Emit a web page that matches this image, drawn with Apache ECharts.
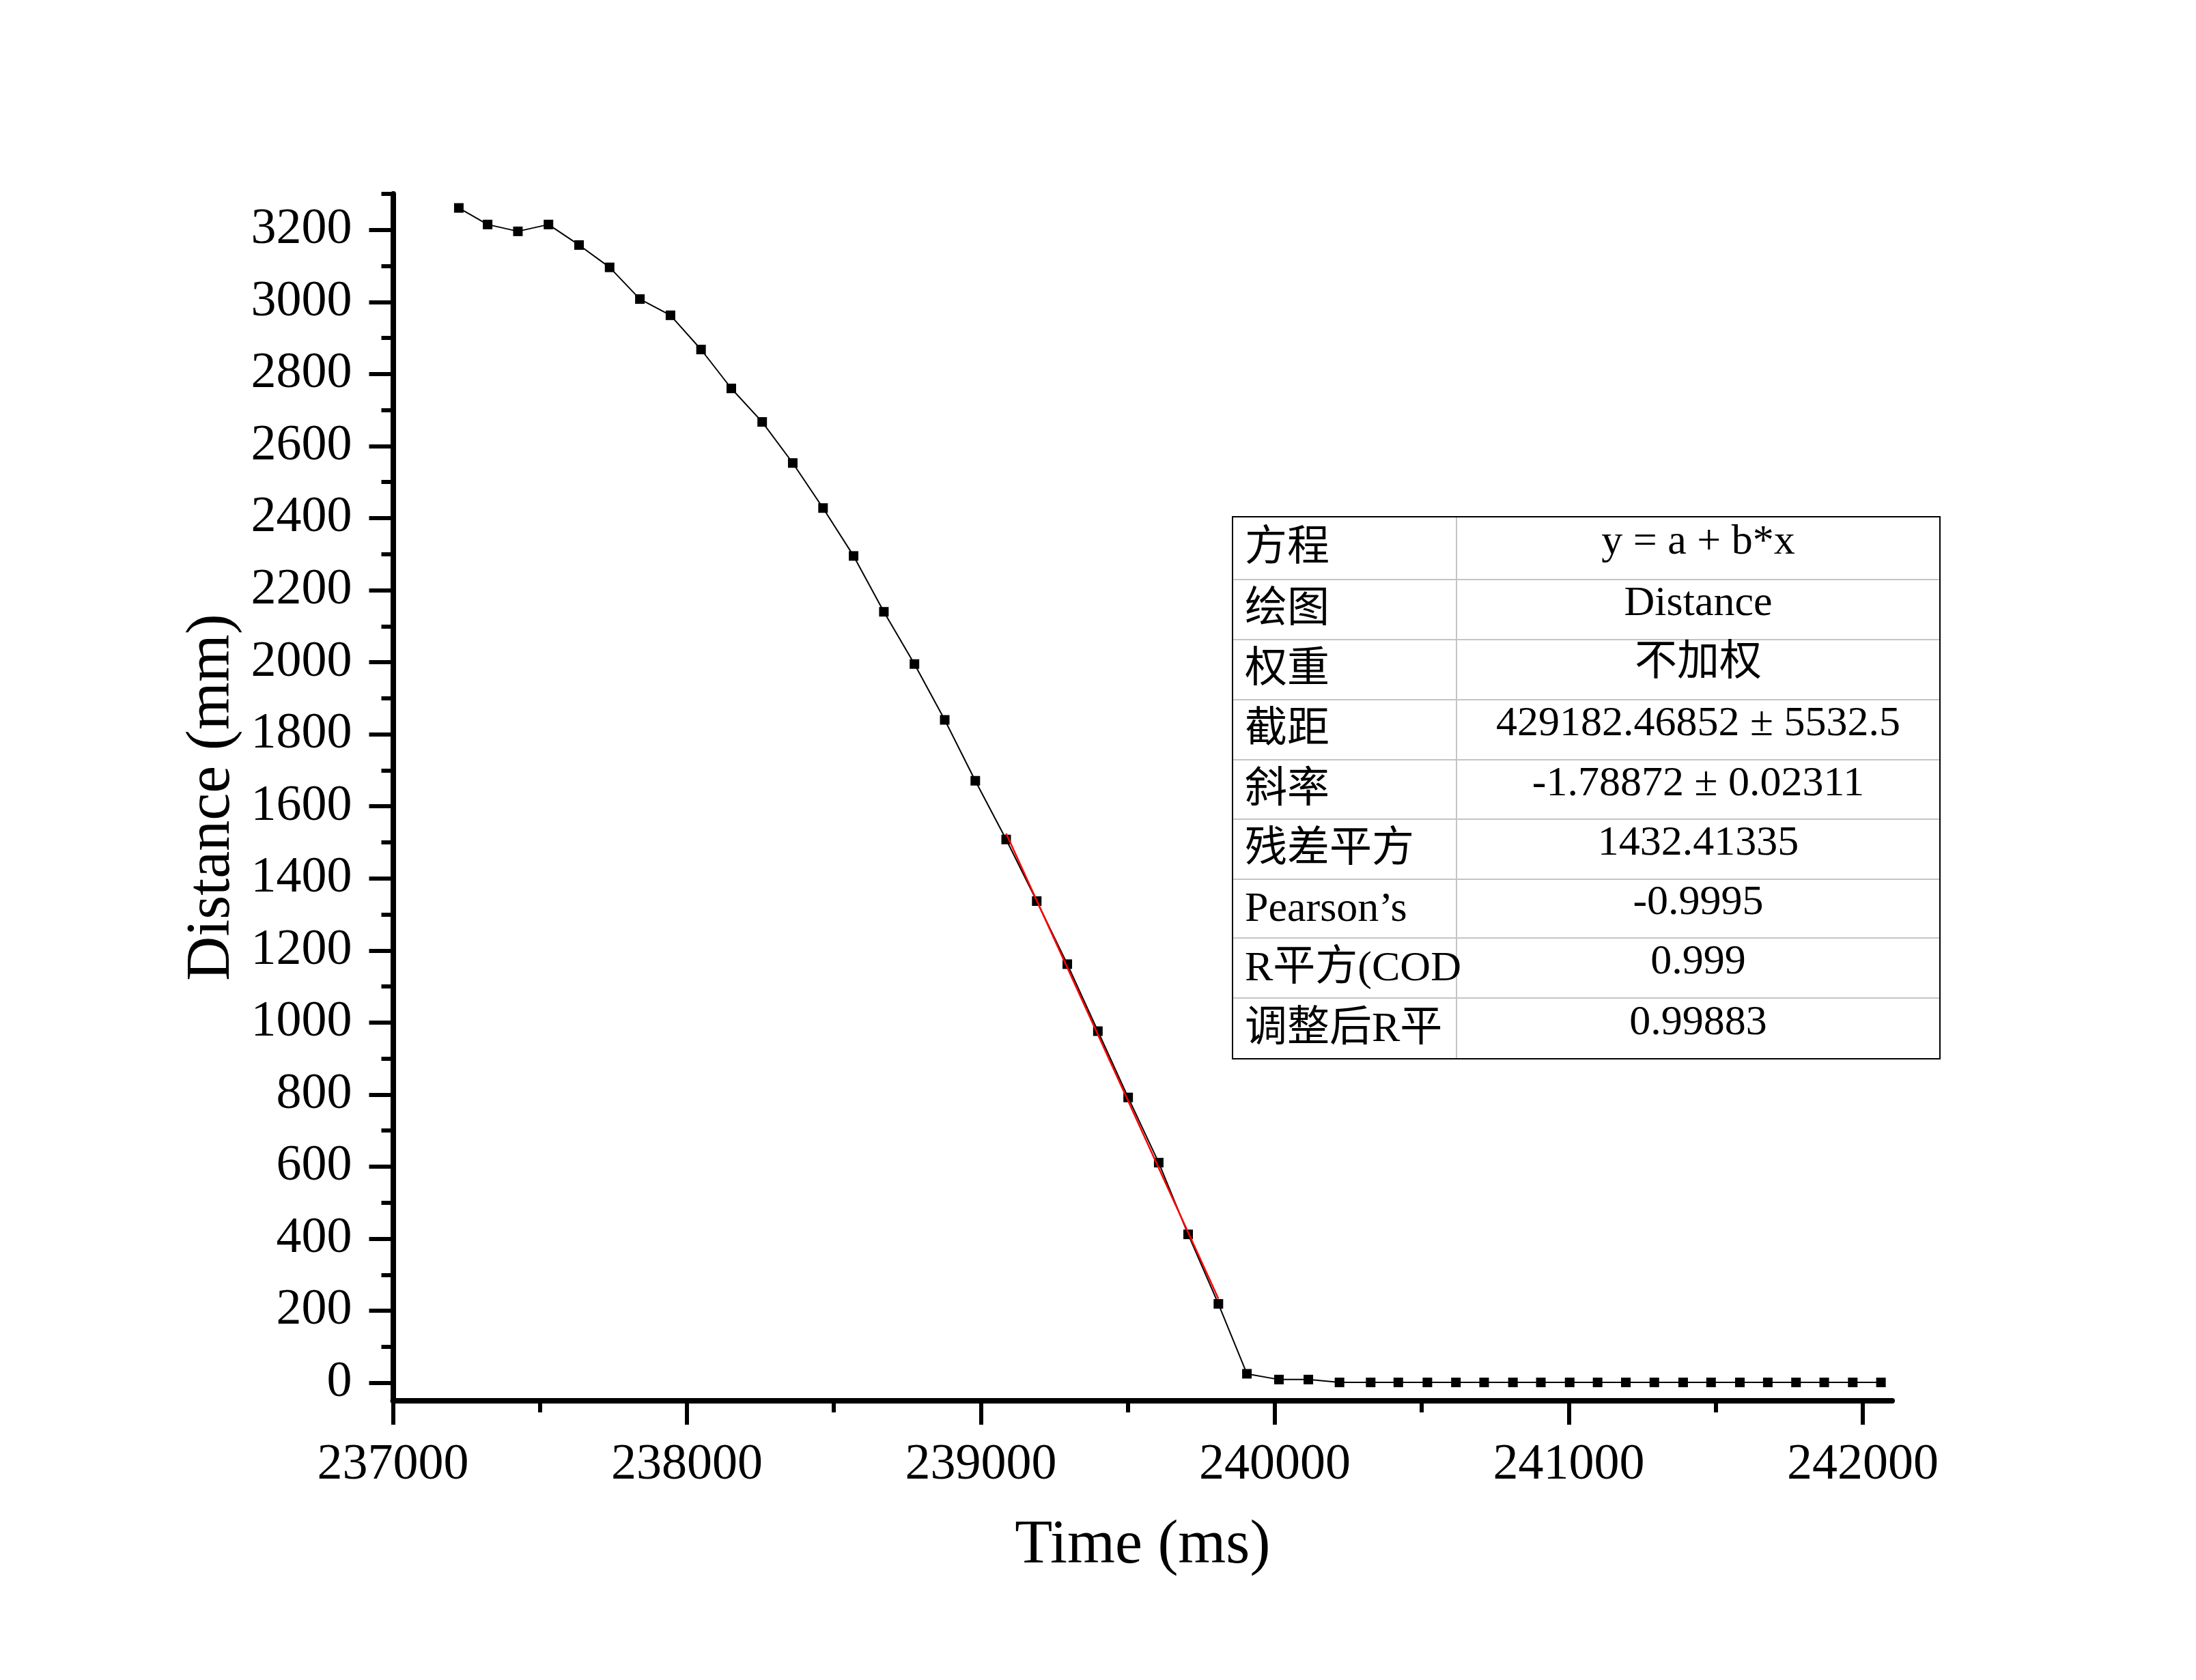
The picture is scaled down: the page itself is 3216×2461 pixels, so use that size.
<!DOCTYPE html>
<html><head><meta charset="utf-8">
<script src="https://cdn.jsdelivr.net/npm/echarts@6/dist/echarts.min.js"></script>
<style>html,body{margin:0;padding:0;background:#fff}#c{width:3216px;height:2461px}</style>
</head><body><div id="c"></div>
<script>
// ---- data ----
const timeMs = [237224, 237322, 237425, 237529, 237633, 237737, 237840, 237944, 238048, 238151,
  238256, 238360, 238463, 238567, 238670, 238774, 238877, 238981, 239086, 239190,
  239294, 239398, 239501, 239605, 239705, 239808, 239905, 240014, 240114, 240220,
  240326, 240420, 240519, 240616, 240712, 240810, 240905, 241003, 241098, 241194,
  241291, 241389, 241484, 241582, 241677, 241773, 241869, 241966, 242062];
const distance = [3261, 3215, 3196, 3215, 3158, 3096, 3008, 2963, 2868, 2760,
  2667, 2553, 2428, 2295, 2140, 1995, 1840, 1671, 1508, 1337,
  1162, 976, 792, 611, 412, 219, 25, 9, 9, 1,
  1, 1, 1, 1, 1, 1, 1, 1, 1, 1,
  1, 1, 1, 1, 1, 1, 1, 1, 1];
const fitIntercept = 429182.46852;
const fitSlope = -1.78872;
const fitStartIndex = 18;
const fitEndIndex = 25;
const xMajorTicks = [237000, 238000, 239000, 240000, 241000, 242000];
const xMinorTicks = [237500, 238500, 239500, 240500, 241500];
const yMajorTicks = [0, 200, 400, 600, 800, 1000, 1200, 1400, 1600, 1800, 2000, 2200, 2400, 2600, 2800, 3000, 3200];
const yMinorTicks = [100, 300, 500, 700, 900, 1100, 1300, 1500, 1700, 1900, 2100, 2300, 2500, 2700, 2900, 3100, 3300];
const tableLabels = ['方程', '绘图', '权重', '截距', '斜率', '残差平方', 'Pearson’s', 'R平方(COD', '调整后R平'];
const tableValues = ['y = a + b*x', 'Distance', '不加权', '429182.46852 ± 5532.5', '-1.78872 ± 0.02311', '1432.41335', '-0.9995', '0.999', '0.99883'];

// ---- chart ----
const FONT = "'Liberation Serif', 'Noto Sans CJK SC', serif";
const xMin = 237000, xMax = 242100, yMin = -50, yMax = 3300;

const mainData = timeMs.map((t, i) => [t, distance[i]]);
const fitData = timeMs.slice(fitStartIndex, fitEndIndex + 1).map(t => [t, fitIntercept + fitSlope * t]);

// table layout
const tblLeft = 1805, tblRight = 2841, tblDiv = 2133;
const rowTops = [757, 849, 937, 1025, 1113, 1200, 1288, 1374, 1462, 1551];
const graphics = [];
for (let i = 1; i < rowTops.length - 1; i++) {
  graphics.push({type: 'line', shape: {x1: tblLeft, y1: rowTops[i], x2: tblRight, y2: rowTops[i]}, style: {stroke: '#c4c4c4', lineWidth: 2}, z: 10});
}
graphics.push({type: 'line', shape: {x1: tblDiv, y1: rowTops[0], x2: tblDiv, y2: rowTops[rowTops.length - 1]}, style: {stroke: '#c4c4c4', lineWidth: 2}, z: 10});
graphics.push({type: 'rect', shape: {x: tblLeft, y: rowTops[0], width: tblRight - tblLeft, height: rowTops[rowTops.length - 1] - rowTops[0]}, style: {fill: 'rgba(255,255,255,0)', stroke: '#000', lineWidth: 2}, z: 11});
tableLabels.forEach((lab, i) => {
  const cy = (rowTops[i] + rowTops[i + 1]) / 2 + 2;
  graphics.push({type: 'text', x: tblLeft + 18, y: cy, style: {text: lab, font: '62px ' + FONT, fill: '#000', align: 'left', verticalAlign: 'middle'}, z: 12});
  graphics.push({type: 'text', x: (tblDiv + tblRight) / 2, y: cy - 10, style: {text: tableValues[i], font: '62px ' + FONT, fill: '#000', align: 'center', verticalAlign: 'middle'}, z: 12});
});

const plainNum = v => String(v);
const axisLineStyle = {color: '#000', width: 8};
const chart = echarts.init(document.getElementById('c'), null, {renderer: 'canvas'});
chart.setOption({
  animation: false,
  backgroundColor: '#fff',
  grid: {left: 575.5, right: 445, top: 284, bottom: 409, containLabel: false},
  xAxis: [{
    type: 'value', min: xMin, max: xMax, position: 'bottom',
    axisLine: {show: true, onZero: false, lineStyle: axisLineStyle},
    axisTick: {show: true, customValues: xMajorTicks, length: 35, lineStyle: {color: '#000', width: 6}},
    axisLabel: {show: true, customValues: xMajorTicks, formatter: plainNum, fontSize: 74, fontFamily: FONT, color: '#000', margin: 58},
    splitLine: {show: false},
    name: 'Time (ms)', nameLocation: 'middle', nameGap: 168,
    nameTextStyle: {fontSize: 90, fontFamily: FONT, color: '#000'}
  }, {
    type: 'value', min: xMin, max: xMax, position: 'bottom',
    axisLine: {show: false, onZero: false},
    axisTick: {show: true, customValues: xMinorTicks, length: 17, lineStyle: {color: '#000', width: 6}},
    axisLabel: {show: false}, splitLine: {show: false}
  }],
  yAxis: [{
    type: 'value', min: yMin, max: yMax, position: 'left',
    axisLine: {show: true, onZero: false, lineStyle: axisLineStyle},
    axisTick: {show: true, customValues: yMajorTicks, length: 35, lineStyle: {color: '#000', width: 6}},
    axisLabel: {show: true, customValues: yMajorTicks, formatter: plainNum, fontSize: 74, fontFamily: FONT, color: '#000', margin: 60},
    splitLine: {show: false},
    name: 'Distance (mm)', nameLocation: 'middle', nameGap: 208,
    nameTextStyle: {fontSize: 90, fontFamily: FONT, color: '#000'}
  }, {
    type: 'value', min: yMin, max: yMax, position: 'left',
    axisLine: {show: false, onZero: false},
    axisTick: {show: true, customValues: yMinorTicks, length: 17, lineStyle: {color: '#000', width: 6}},
    axisLabel: {show: false}, splitLine: {show: false}
  }],
  series: [{
    type: 'line', data: mainData, xAxisIndex: 0, yAxisIndex: 0,
    symbol: 'rect', symbolSize: 14, showSymbol: true,
    itemStyle: {color: '#000'}, lineStyle: {color: '#000', width: 2}, z: 2
  }, {
    type: 'line', data: fitData, xAxisIndex: 0, yAxisIndex: 0,
    symbol: 'none', lineStyle: {color: '#ff0000', width: 2.5}, z: 3
  }],
  graphic: graphics
});
</script>
</body></html>
